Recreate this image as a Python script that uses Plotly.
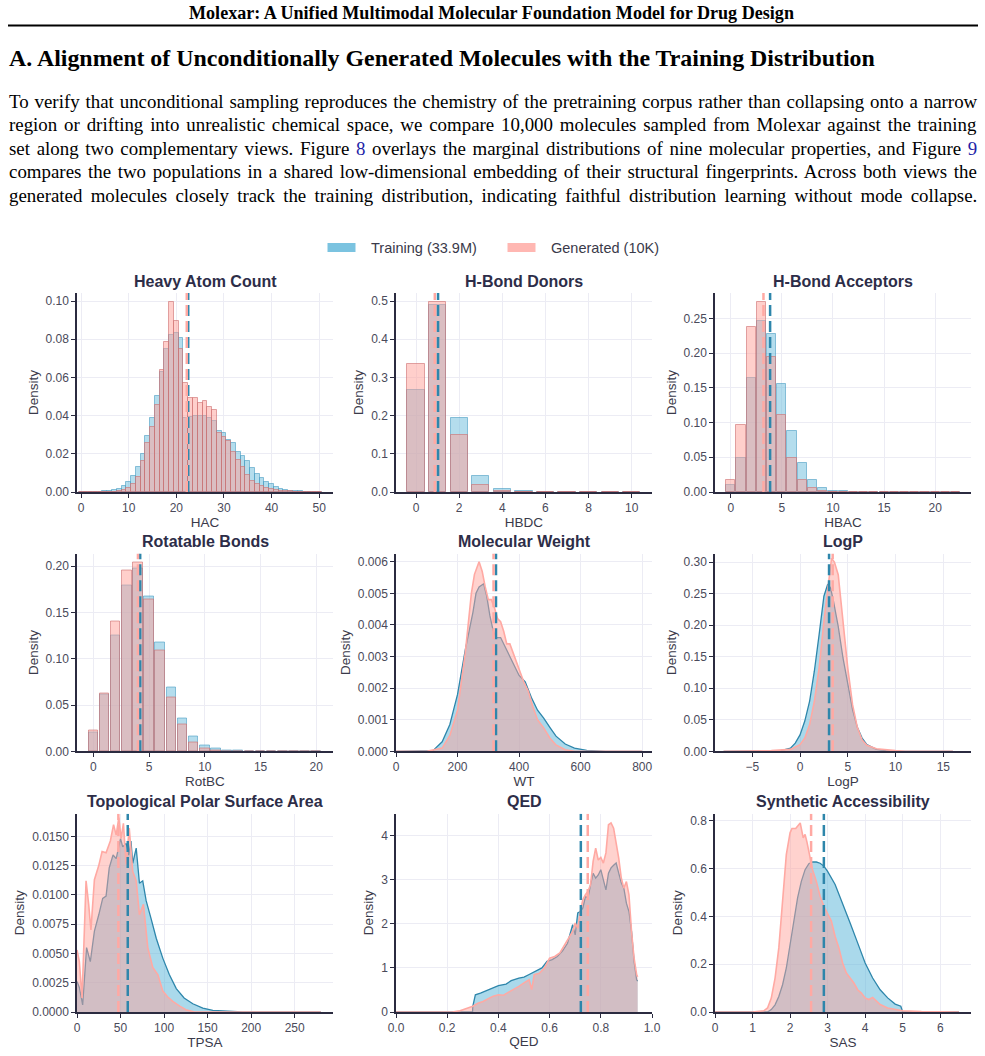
import plotly.graph_objects as go

W, H = 985, 1056

# ---------------- data ----------------
hac_x = list(range(0, 51))
hac_train = [0.0001]*5 + [0.0003, 0.0005, 0.001, 0.0018, 0.003, 0.0055, 0.0085, 0.013, 0.020, 0.0295,
             0.0385, 0.0505, 0.063, 0.075, 0.082, 0.083, 0.0805, 0.0385, 0.0395, 0.040, 0.040, 0.040,
             0.039, 0.037, 0.032, 0.031, 0.027, 0.0255, 0.021, 0.019, 0.016, 0.0125, 0.0095, 0.0075,
             0.0055, 0.004, 0.0028, 0.0018, 0.0012, 0.0007, 0.0004, 0.0003, 0.0002, 0.0001, 0.0001, 0.0001]
hac_gen = [0.0001]*8 + [0.0005, 0.001, 0.002, 0.004, 0.008, 0.016, 0.0255, 0.034, 0.0455, 0.064, 0.0785,
           0.0993, 0.0897, 0.075, 0.057, 0.049, 0.049, 0.0465, 0.0475, 0.0445, 0.0428, 0.031, 0.029,
           0.0265, 0.021, 0.017, 0.013, 0.009, 0.0058, 0.004, 0.003, 0.002, 0.0015, 0.001, 0.0006,
           0.0004, 0.0003] + [0.0001]*6
hac_mean = (22.5, 22.2)

hbdc_x = list(range(0, 11))
hbdc_train = [0.268, 0.490, 0.194, 0.042, 0.0087, 0.002, 0.0006, 0.0003, 0.0002, 0.0001, 0.0001]
hbdc_gen = [0.335, 0.497, 0.150, 0.019, 0.002, 0.0005, 0.0003, 0.0002, 0.0001, 0.0001, 0.0001]
hbdc_mean = (1.02, 0.87)

hbac_x = list(range(0, 23))
hbac_train = [0.0096, 0.0486, 0.1635, 0.246, 0.227, 0.155, 0.088, 0.042, 0.0178, 0.0063, 0.002,
              0.0008, 0.0005, 0.0003, 0.0002, 0.0002, 0.0001, 0.0001, 0.0001, 0.0001, 0.0001, 0.0001, 0.0001]
hbac_gen = [0.0178, 0.097, 0.238, 0.273, 0.195, 0.111, 0.049, 0.0178, 0.006, 0.0015, 0.0005,
            0.0003, 0.0002, 0.0001, 0.0001, 0.0001, 0.0001, 0.0001, 0.0001, 0.0001, 0.0001, 0.0001, 0.0001]
hbac_mean = (3.85, 3.2)

rotbc_x = list(range(0, 21))
rotbc_train = [0.0198, 0.061, 0.1254, 0.1795, 0.197, 0.1676, 0.118, 0.069, 0.0353, 0.0162, 0.0065,
               0.0025, 0.001, 0.0004, 0.0002, 0.0001, 0.0001, 0.0001, 0.0001, 0.0001, 0.0001]
rotbc_gen = [0.0227, 0.062, 0.140, 0.1953, 0.204, 0.164, 0.109, 0.0577, 0.0288, 0.010, 0.003,
             0.001, 0.0003, 0.0002, 0.0001, 0.0001, 0.0001, 0.0001, 0.0001, 0.0001, 0.0001]
rotbc_mean = (4.2, 4.0)

wt_train_x = [0, 100, 120, 150, 175, 200, 225, 250, 260, 270, 285, 295, 305, 315, 325, 340, 350, 365,
              380, 400, 420, 440, 460, 480, 500, 520, 550, 580, 620, 680, 800]
wt_train_y = [0, 0, 0.00002, 0.0003, 0.00085, 0.0018, 0.0032, 0.0044, 0.0050, 0.0052, 0.0053, 0.0049,
              0.0043, 0.00385, 0.0036, 0.0036, 0.0034, 0.0031, 0.0028, 0.0024, 0.0022, 0.0017, 0.0013,
              0.00105, 0.00076, 0.00048, 0.00023, 0.0001, 0.00003, 0, 0]
wt_gen_x = [0, 100, 150, 175, 200, 225, 245, 255, 270, 280, 290, 300, 310, 320, 330, 340, 350, 360,
            370, 385, 400, 415, 430, 445, 460, 480, 500, 520, 550, 580, 800]
wt_gen_y = [0, 0, 0.0001, 0.0005, 0.0013, 0.0031, 0.0050, 0.0056, 0.0060, 0.0057, 0.0052, 0.0048,
            0.0048, 0.00454, 0.0042, 0.0041, 0.0038, 0.0034, 0.0034, 0.0030, 0.0026, 0.0022, 0.0019,
            0.0014, 0.0010, 0.00074, 0.00042, 0.0002, 0.00005, 0, 0]
wt_mean = (325, 317)

logp_train_x = [-8, -2, -1, -0.5, 0, 0.5, 1, 1.5, 2, 2.5, 2.9, 3.2, 3.5, 4, 4.5, 5, 5.5, 6, 6.5, 7, 8, 9, 10, 16]
logp_train_y = [0, 0.001, 0.005, 0.013, 0.026, 0.048, 0.079, 0.127, 0.185, 0.246, 0.265, 0.259, 0.238,
                0.198, 0.148, 0.106, 0.066, 0.038, 0.021, 0.0106, 0.003, 0.001, 0, 0]
logp_gen_x = [-8, -3, -1, 0, 0.5, 1, 1.5, 2, 2.5, 3, 3.3, 3.6, 4, 4.5, 5, 5.5, 6, 6.5, 7, 8, 9, 10, 11, 16]
logp_gen_y = [0, 0.001, 0.003, 0.0106, 0.021, 0.042, 0.079, 0.132, 0.206, 0.27, 0.306, 0.30, 0.28, 0.206,
              0.132, 0.074, 0.038, 0.018, 0.0095, 0.004, 0.002, 0.001, 0, 0]
logp_mean = (3.04, 3.42)

tpsa_train_x = [0, 2.7, 6.5, 11, 15.3, 20, 25, 29.5, 33.4, 37, 41.4, 45, 50, 52.5, 56.4, 59.4, 62, 64, 68,
                71.7, 75.5, 79.4, 85, 91, 98.5, 106, 114, 123, 133, 144.5, 156, 171, 190, 280]
tpsa_train_y = [0.0026, 0.0021, 0.0006, 0.0055, 0.0043, 0.0069, 0.0083, 0.0097, 0.0099, 0.0123, 0.0134,
                0.0131, 0.0148, 0.0141, 0.0144, 0.0134, 0.0146, 0.0127, 0.0140, 0.0110, 0.0112, 0.0095,
                0.0080, 0.0063, 0.0046, 0.0032, 0.0020, 0.0012, 0.0007, 0.00034, 0.00014, 0.00005, 0, 0]
tpsa_gen_x = [0, 2.7, 5.8, 10.4, 13.4, 16, 20, 25, 28.8, 33.4, 38.3, 42, 45, 48, 50.6, 53.3, 56.4, 60, 64,
              68, 71.7, 76.3, 81.3, 87, 92.8, 98.5, 104, 110, 118, 125, 135, 280]
tpsa_gen_y = [0.0053, 0.0043, 0.0012, 0.0112, 0.0092, 0.0070, 0.0113, 0.0125, 0.0137, 0.0136, 0.0146,
              0.0160, 0.0151, 0.0166, 0.0148, 0.0161, 0.0126, 0.0157, 0.0120, 0.0112, 0.0083, 0.0092,
              0.0055, 0.0038, 0.0032, 0.0018, 0.0013, 0.0009, 0.0005, 0.0002, 0, 0]
tpsa_mean = (58.3, 47.5)

qed_train_x = [0.0, 0.299, 0.30, 0.31, 0.33, 0.35, 0.38, 0.40, 0.43, 0.45, 0.48, 0.50, 0.52, 0.55, 0.57,
               0.59, 0.61, 0.63, 0.65, 0.67, 0.69, 0.70, 0.71, 0.72, 0.73, 0.74, 0.75, 0.76, 0.77, 0.78,
               0.79, 0.80, 0.81, 0.82, 0.83, 0.84, 0.85, 0.86, 0.87, 0.88, 0.89, 0.90, 0.91, 0.92, 0.93,
               0.94, 0.944]
qed_train_y = [0, 0, 0.13, 0.39, 0.43, 0.48, 0.54, 0.60, 0.635, 0.71, 0.77, 0.79, 0.85, 0.94, 1.0, 1.15,
               1.19, 1.26, 1.38, 1.56, 1.98, 1.75, 2.25, 2.28, 2.36, 2.62, 2.59, 2.89, 3.15, 3.04, 3.11,
               3.23, 3.0, 2.77, 3.15, 3.27, 3.33, 3.38, 3.15, 2.93, 2.81, 2.47, 2.28, 1.83, 1.15, 0.73, 0.70]
qed_gen_x = [0.0, 0.22, 0.25, 0.28, 0.30, 0.32, 0.34, 0.36, 0.38, 0.40, 0.42, 0.44, 0.46, 0.48, 0.50,
             0.52, 0.53, 0.54, 0.56, 0.58, 0.60, 0.62, 0.64, 0.66, 0.68, 0.69, 0.70, 0.71, 0.72, 0.73,
             0.74, 0.75, 0.76, 0.77, 0.78, 0.79, 0.80, 0.81, 0.82, 0.83, 0.84, 0.85, 0.86, 0.87, 0.88,
             0.89, 0.90, 0.91, 0.92, 0.93, 0.94, 0.944]
qed_gen_y = [0, 0, 0.03, 0.09, 0.13, 0.20, 0.24, 0.30, 0.36, 0.39, 0.38, 0.45, 0.51, 0.58, 0.66, 0.73,
             0.51, 0.85, 0.88, 1.0, 1.22, 1.26, 1.34, 1.53, 1.75, 1.83, 2.02, 1.90, 2.28, 2.55, 2.66,
             2.74, 2.89, 3.42, 3.72, 3.45, 3.51, 3.38, 3.61, 4.25, 4.29, 4.17, 3.83, 3.49, 3.04, 2.81,
             2.96, 2.66, 1.83, 1.22, 0.85, 0.80]
qed_mean = (0.722, 0.749)

sas_train_x = [0, 1.4, 1.5, 1.6, 1.7, 1.8, 1.9, 2.0, 2.1, 2.2, 2.3, 2.4, 2.5, 2.6, 2.7, 2.8, 2.9, 3.0,
               3.2, 3.4, 3.6, 3.8, 4.0, 4.2, 4.4, 4.6, 4.8, 4.95, 5.0, 6.5]
sas_train_y = [0, 0, 0.01, 0.03, 0.065, 0.114, 0.184, 0.28, 0.38, 0.477, 0.546, 0.595, 0.62, 0.627,
               0.627, 0.622, 0.61, 0.588, 0.533, 0.456, 0.372, 0.289, 0.205, 0.142, 0.093, 0.059,
               0.033, 0.024, 0, 0]
sas_gen_x = [0, 1.0, 1.3, 1.4, 1.5, 1.6, 1.7, 1.8, 1.9, 2.0, 2.05, 2.15, 2.2, 2.27, 2.35, 2.4, 2.45, 2.5,
             2.55, 2.6, 2.7, 2.8, 2.9, 3.0, 3.1, 3.2, 3.3, 3.4, 3.5, 3.6, 3.7, 3.8, 3.9, 4.0, 4.1, 4.2,
             4.3, 4.4, 4.6, 4.8, 5.0, 5.5, 6.5]
sas_gen_y = [0, 0, 0.005, 0.017, 0.058, 0.142, 0.268, 0.477, 0.658, 0.749, 0.767, 0.767, 0.776, 0.79,
             0.728, 0.742, 0.71, 0.67, 0.637, 0.594, 0.546, 0.484, 0.442, 0.414, 0.38, 0.316, 0.268,
             0.205, 0.163, 0.142, 0.121, 0.093, 0.079, 0.059, 0.052, 0.061, 0.045, 0.031, 0.017, 0.01,
             0.005, 0.002, 0]
sas_mean = (2.9, 2.56)

# ---------------- style ----------------
BLUE_LINE = "#2e86ab"
PINK_LINE = "#ffa9a3"
BLUE_FILL = "rgba(100,185,218,0.55)"
PINK_FILL = "rgba(255,160,152,0.48)"
BLUE_BAR = "rgba(105,188,220,0.5)"
PINK_BAR = "rgba(255,160,152,0.5)"
BLUE_EDGE = "rgba(60,150,190,0.55)"
PINK_EDGE = "rgba(205,110,110,0.6)"
AX = "#2b2b40"
GRID = "#ececf4"
TICK = "#4a4a5a"
TITLE = "#2d2d48"
SANS = "Liberation Sans, Arial, sans-serif"
SERIF = "Liberation Serif, Times New Roman, serif"

cols_px = [(77, 333), (396, 652), (715, 971)]
rows_px = [(293, 492), (553.5, 751.3), (813.7, 1012)]

panels = [
    dict(kind="bar", title="Heavy Atom Count", xl="HAC", x=hac_x, a=hac_train, b=hac_gen, w=1.0,
         mean=hac_mean, xr=[-0.85, 52.9], yr=[0, 0.1042], xd=10, yd=0.02, yf=".2f", x0=0),
    dict(kind="bar", title="H-Bond Donors", xl="HBDC", x=hbdc_x, a=hbdc_train, b=hbdc_gen, w=0.8,
         mean=hbdc_mean, xr=[-0.93, 10.94], yr=[0, 0.521], xd=2, yd=0.1, yf=".1f", x0=0),
    dict(kind="bar", title="H-Bond Acceptors", xl="HBAC", x=hbac_x, a=hbac_train, b=hbac_gen, w=0.9,
         mean=hbac_mean, xr=[-1.54, 23.5], yr=[0, 0.2866], xd=5, yd=0.05, yf=".2f", x0=0),
    dict(kind="bar", title="Rotatable Bonds", xl="RotBC", x=rotbc_x, a=rotbc_train, b=rotbc_gen, w=0.86,
         mean=rotbc_mean, xr=[-1.47, 21.5], yr=[0, 0.2136], xd=5, yd=0.05, yf=".2f", x0=0),
    dict(kind="kde", title="Molecular Weight", xl="WT", ax=wt_train_x, a=wt_train_y, bx=wt_gen_x, b=wt_gen_y,
         mean=wt_mean, xr=[0, 832], yr=[0, 0.00626], xd=200, yd=0.001, yf=".3f", x0=0),
    dict(kind="kde", title="LogP", xl="LogP", ax=logp_train_x, a=logp_train_y, bx=logp_gen_x, b=logp_gen_y,
         mean=logp_mean, xr=[-8.9, 17.9], yr=[0, 0.3137], xd=5, yd=0.05, yf=".2f", x0=-5),
    dict(kind="kde", title="Topological Polar Surface Area", xl="TPSA", ax=tpsa_train_x, a=tpsa_train_y,
         bx=tpsa_gen_x, b=tpsa_gen_y, mean=tpsa_mean, xr=[0, 294], yr=[0, 0.01693], xd=50, yd=0.0025,
         yf=".4f", x0=0),
    dict(kind="kde", title="QED", xl="QED", ax=qed_train_x, a=qed_train_y, bx=qed_gen_x, b=qed_gen_y,
         mean=qed_mean, xr=[0, 1.0], yr=[0, 4.5], xd=0.2, yd=1, yf="d", x0=0, xf=".1f"),
    dict(kind="kde", title="Synthetic Accessibility", xl="SAS", ax=sas_train_x, a=sas_train_y, bx=sas_gen_x,
         b=sas_gen_y, mean=sas_mean, xr=[0, 6.82], yr=[0, 0.829], xd=1, yd=0.2, yf=".1f", x0=0),
]

fig = go.Figure()
annotations = []
shapes = []

def dash_line(xa, ya, xv, ymax, color):
    return go.Scatter(x=[xv, xv], y=[0, ymax], mode="lines", xaxis=xa, yaxis=ya, showlegend=False,
                      hoverinfo="skip", line=dict(color=color, width=2.5, dash="11px,5px"))

layout_axes = {}
for i, p in enumerate(panels):
    r, c = divmod(i, 3)
    n = "" if i == 0 else str(i + 1)
    xa, ya = "x" + n, "y" + n
    (cx0, cx1), (ry0, ry1) = cols_px[c], rows_px[r]
    ymax = p["yr"][1]
    if p["kind"] == "bar":
        fig.add_trace(dash_line(xa, ya, p["mean"][0], ymax, BLUE_LINE))
        fig.add_trace(dash_line(xa, ya, p["mean"][1], ymax, PINK_LINE))
        fig.add_trace(go.Bar(x=p["x"], y=p["a"], width=p["w"], xaxis=xa, yaxis=ya, showlegend=False,
                             marker=dict(color=BLUE_BAR, line=dict(color=BLUE_EDGE, width=1))))
        fig.add_trace(go.Bar(x=p["x"], y=p["b"], width=p["w"], xaxis=xa, yaxis=ya, showlegend=False,
                             marker=dict(color=PINK_BAR, line=dict(color=PINK_EDGE, width=1))))
    else:
        fig.add_trace(go.Scatter(x=p["ax"], y=p["a"], mode="lines", fill="tozeroy", fillcolor=BLUE_FILL,
                                 line=dict(color=BLUE_LINE, width=1.3), xaxis=xa, yaxis=ya, showlegend=False))
        fig.add_trace(go.Scatter(x=p["bx"], y=p["b"], mode="lines", fill="tozeroy", fillcolor=PINK_FILL,
                                 line=dict(color=PINK_LINE, width=1.6), xaxis=xa, yaxis=ya, showlegend=False))
        fig.add_trace(dash_line(xa, ya, p["mean"][0], ymax, BLUE_LINE))
        fig.add_trace(dash_line(xa, ya, p["mean"][1], ymax, PINK_LINE))

    common = dict(showline=True, linecolor=AX, linewidth=1.5, ticks="outside", ticklen=4, tickcolor=AX,
                  tickwidth=1, showgrid=True, gridcolor=GRID, gridwidth=1, zeroline=False, automargin=False,
                  tickfont=dict(family=SANS, size=12, color=TICK))
    layout_axes["xaxis" + n] = dict(common, domain=[cx0 / W, cx1 / W], anchor=ya, range=p["xr"],
                                    tickmode="linear", tick0=p["x0"], dtick=p["xd"],
                                    tickformat=p.get("xf", ""),
                                    title=dict(text=p["xl"], standoff=2,
                                               font=dict(family=SANS, size=13.5, color="#3a3a4a")))
    layout_axes["yaxis" + n] = dict(common, domain=[1 - ry1 / H, 1 - ry0 / H], anchor=xa, range=p["yr"],
                                    tickmode="linear", tick0=0, dtick=p["yd"], tickformat=p["yf"],
                                    title=dict(text="Density", standoff=4,
                                               font=dict(family=SANS, size=13.5, color="#3a3a4a")))
    annotations.append(dict(text="<b>%s</b>" % p["title"], x=(cx0 + cx1) / 2 / W, y=1 - (ry0 - 12) / H,
                            xref="paper", yref="paper", showarrow=False, xanchor="center", yanchor="middle",
                            font=dict(family=SANS, size=16, color=TITLE)))

# ---------------- header text ----------------
LINK = "#1f1fa8"
para = [
    "To verify that unconditional sampling reproduces the chemistry of the pretraining corpus rather than collapsing onto a narrow",
    "region or drifting into unrealistic chemical space, we compare 10,000 molecules sampled from Molexar against the training",
    "set along two complementary views. Figure <span style='color:%s'>8</span> overlays the marginal distributions of nine molecular properties, and Figure <span style='color:%s'>9</span>" % (LINK, LINK),
    "compares the two populations in a shared low-dimensional embedding of their structural fingerprints. Across both views the",
    "generated molecules closely track the training distribution, indicating faithful distribution learning without mode collapse.",
]
para_y = [101, 124.5, 148, 171.5, 195]
para_wordspace = [1.15, 2.1, 1.95, 1.9, 3.5]

annotations.append(dict(text="<b>Molexar: A Unified Multimodal Molecular Foundation Model for Drug Design</b>",
                        x=491 / W, y=1 - 13 / H, xref="paper", yref="paper", showarrow=False,
                        xanchor="center", yanchor="middle", font=dict(family=SERIF, size=18.1, color="black")))
annotations.append(dict(text="<b>A. Alignment of Unconditionally Generated Molecules with the Training Distribution</b>",
                        x=7 / W, y=1 - 58 / H, xref="paper", yref="paper", showarrow=False,
                        xanchor="left", yanchor="middle", font=dict(family=SERIF, size=23.9, color="black")))
for t, yy, ws in zip(para, para_y, para_wordspace):
    annotations.append(dict(text="<span style='word-spacing:%.2fpx'>%s</span>" % (ws, t), x=7 / W, y=1 - yy / H,
                            xref="paper", yref="paper", showarrow=False,
                            xanchor="left", yanchor="middle", font=dict(family=SERIF, size=18.9, color="black")))
shapes.append(dict(type="line", xref="paper", yref="paper", x0=8 / W, x1=978 / W, y0=1 - 25.5 / H,
                   y1=1 - 25.5 / H, line=dict(color="black", width=2)))

# ---------------- legend (drawn) ----------------
legend_items = [("Training (33.9M)", "rgba(100,185,218,0.85)", 327.5, 369),
                ("Generated (10K)", "rgba(255,170,165,0.85)", 507.5, 548.5)]
for label, col, sx, tx in legend_items:
    shapes.append(dict(type="rect", xref="paper", yref="paper", x0=sx / W, x1=(sx + 28) / W,
                       y0=1 - 252 / H, y1=1 - 243 / H, fillcolor=col, line=dict(width=0)))
    annotations.append(dict(text=label, x=tx / W, y=1 - 247.5 / H, xref="paper", yref="paper",
                            showarrow=False, xanchor="left", yanchor="middle",
                            font=dict(family=SANS, size=14.5, color="#3a3a4a")))

fig.update_layout(width=W, height=H, margin=dict(l=0, r=0, t=0, b=0), paper_bgcolor="white",
                  plot_bgcolor="white", barmode="overlay", bargap=0, showlegend=False,
                  annotations=annotations, shapes=shapes, **layout_axes)

fig.write_html("out.html")
